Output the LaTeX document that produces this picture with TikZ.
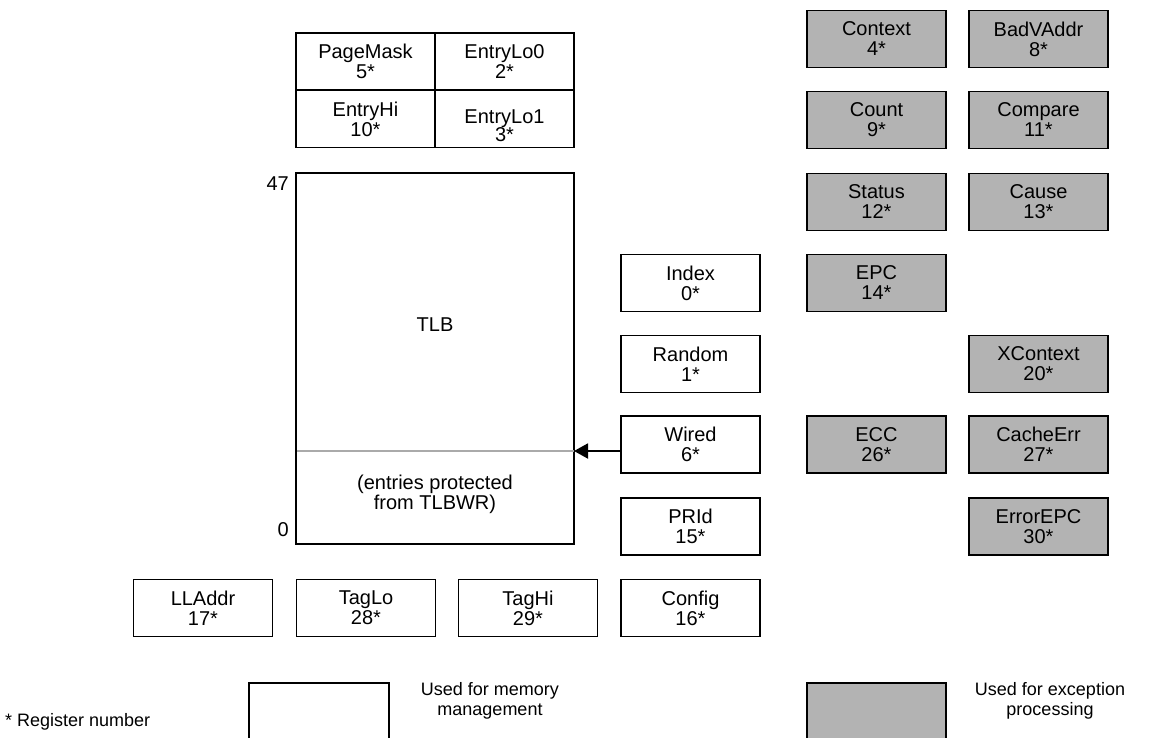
\documentclass[tikz,border=0pt]{standalone}
\usepackage{fontspec}
\setmainfont{Liberation Sans}
\usetikzlibrary{arrows.meta}
\definecolor{exfill}{RGB}{179,179,179}
\definecolor{divgray}{RGB}{170,170,170}
\tikzset{
  regbox/.style={draw, line width=1.9pt, minimum width=139pt, minimum height=57pt,
    inner sep=0pt, align=center, font=\fontsize{20}{20}\selectfont},
  exbox/.style={regbox, fill=exfill},
  cell/.style={regbox},
  lbl/.style={inner sep=0pt, align=center, font=\fontsize{20}{20}\selectfont},
  leg/.style={inner sep=0pt, align=center, font=\fontsize{18}{20}\selectfont},
}
\begin{document}
\begin{tikzpicture}[x=1pt,y=-1pt]
\useasboundingbox (0,0) rectangle (1149,737);
% top table
\node[cell] (pagemask) at (365.5,61.5) {PageMask\\5*};
\node[cell] (entrylo0) at (504.5,61.5) {EntryLo0\\2*};
\node[cell] (entryhi) at (365.5,119) {EntryHi\\10*};
\node[cell] (entrylo1) at (504.5,119) {};
\node[lbl] (entrylo1t) at (504.5,126) {EntryLo1\\[-2pt]3*};
% TLB
\draw[line width=1.9pt] (296,173) rectangle (574,544);
\node[inner sep=0pt, minimum width=278pt, minimum height=371pt] (tlb) at (435,358.5) {};
\coordinate (wtlb) at (574,451);
\draw[divgray, line width=1.6pt] (297,451) -- (wtlb);
\node[lbl] (tlbl) at (435,325) {TLB};
\node[lbl] (prot) at (435,494) {(entries protected\\from TLBWR)};
\node[lbl, anchor=east] (n47) at (289,184) {47};
\node[lbl, anchor=east] (n0) at (289,530) {0};
% middle column
\node[regbox] (index) at (690.5,283) {Index\\0*};
\node[regbox] (random) at (690.5,364) {Random\\1*};
\node[regbox] (wired) at (690.5,444.5) {Wired\\6*};
\node[regbox] (prid) at (690.5,526.5) {PRId\\15*};
\node[regbox] (config) at (690.5,608) {Config\\16*};
% bottom row
\node[regbox] (lladdr) at (203,608) {LLAddr\\17*};
\node[regbox] (taglo) at (366,608) {TagLo\\28*};
\node[regbox] (taghi) at (528,608) {TagHi\\29*};
% exception registers
\node[exbox] (context) at (876.5,39) {Context\\4*};
\node[exbox] (badvaddr) at (1038.5,39) {BadVAddr\\8*};
\node[exbox] (count) at (876.5,120) {Count\\9*};
\node[exbox] (compare) at (1038.5,120) {Compare\\11*};
\node[exbox] (status) at (876.5,202) {Status\\12*};
\node[exbox] (cause) at (1038.5,202) {Cause\\13*};
\node[exbox] (epc) at (876.5,283) {EPC\\14*};
\node[exbox] (xcontext) at (1038.5,364) {XContext\\20*};
\node[exbox] (ecc) at (876.5,444.5) {ECC\\26*};
\node[exbox] (cacheerr) at (1038.5,444.5) {CacheErr\\27*};
\node[exbox] (errorepc) at (1038.5,526.5) {ErrorEPC\\30*};
% arrow
\draw[line width=1.9pt, -{Triangle[length=14pt,width=15pt]}] (wired.west |- wtlb) -- (wtlb);
% legend
\draw[line width=1.9pt] (249,683) rectangle (389,750);
\draw[line width=1.9pt, fill=exfill] (807,683) rectangle (946,750);
\node[leg] (legmem) at (490,701) {Used for memory\\management};
\node[leg] (legexc) at (1050,701) {Used for exception\\processing};
\node[leg, anchor=west] (legreg) at (5,722) {* Register number};
\end{tikzpicture}
\end{document}
